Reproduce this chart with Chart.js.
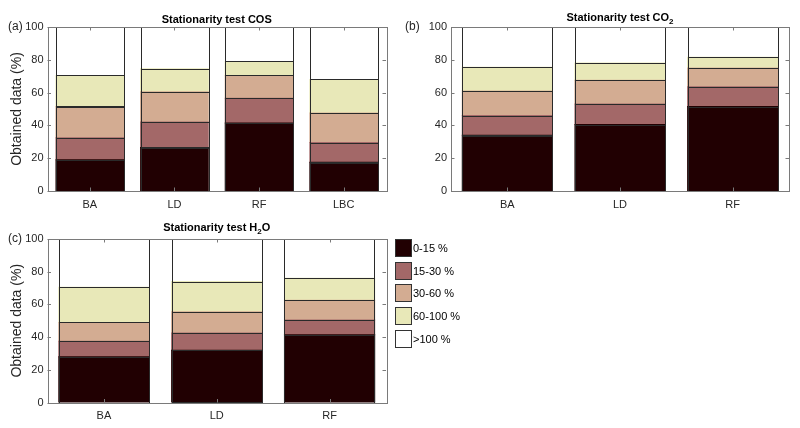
<!DOCTYPE html>
<html><head><meta charset="utf-8">
<script src="https://cdn.jsdelivr.net/npm/chart.js@4/dist/chart.umd.min.js"></script>
<style>
html,body{margin:0;padding:0;background:#fff;}
#wrap{position:relative;width:800px;height:428px;overflow:hidden;background:#fff;}
#wrap canvas{position:absolute;left:0;top:0;}
</style></head><body>
<div id="wrap">
<canvas id="ca" width="800" height="428"></canvas>
<canvas id="cb" width="800" height="428"></canvas>
<canvas id="cc" width="800" height="428"></canvas>
</div>
<script>
// ---- data ----
const seriesLabels = ['0-15 %', '15-30 %', '30-60 %', '60-100 %', '>100 %'];
const seriesColors = ['#210002', '#a36868', '#d3ac92', '#e8e8b8', '#ffffff'];
const yTickValues = [0, 20, 40, 60, 80, 100];
const yLabel = 'Obtained data (%)';

// (a) COS
const catsCOS = ['BA', 'LD', 'RF', 'LBC'];
const cos_0_15   = [19, 26.5, 41.5, 17.5];
const cos_15_30  = [13.5, 15.5, 15, 12];
const cos_30_60  = [19, 18.5, 14, 18];
const cos_60_100 = [19, 14, 8.5, 20.5];
const cos_gt100  = [29.5, 25.5, 21, 32];

// (b) CO2
const catsCO2 = ['BA', 'LD', 'RF'];
const co2_0_15   = [34, 40.5, 51.5];
const co2_15_30  = [12, 12.5, 12];
const co2_30_60  = [15, 14.5, 11.5];
const co2_60_100 = [14.5, 10.5, 6.5];
const co2_gt100  = [24.5, 22, 18.5];

// (c) H2O
const catsH2O = ['BA', 'LD', 'RF'];
const h2o_0_15   = [28, 32, 41.5];
const h2o_15_30  = [9.5, 10.5, 9];
const h2o_30_60  = [11.5, 13, 12];
const h2o_60_100 = [21.5, 18.5, 13.5];
const h2o_gt100  = [29.5, 26, 24];

const titleCOS = [{t: 'Stationarity test COS'}];
const titleCO2 = [{t: 'Stationarity test CO'}, {t: '2', sub: true}];
const titleH2O = [{t: 'Stationarity test H'}, {t: '2', sub: true}, {t: 'O'}];

// ---- drawing ----
const FONT = '"Liberation Sans", Arial, Helvetica, sans-serif';
const TXT = '#262626';
const AXC = '#7a7a7a';

const decor = {
  id: 'decor',
  afterDatasetsDraw(chart) {
    const ctx = chart.ctx;
    ctx.save();
    ctx.strokeStyle = '#2a2a2a';
    ctx.lineWidth = 1;
    chart.data.datasets.forEach((ds, i) => {
      chart.getDatasetMeta(i).data.forEach(el => {
        const p = el.getProps(['x', 'y', 'base', 'width'], true);
        const l = p.x - p.width / 2, t = Math.min(p.y, p.base), h = Math.abs(p.base - p.y);
        ctx.strokeRect(Math.round(l) + 0.5, Math.round(t) + 0.5, Math.round(p.width), Math.round(h));
      });
    });
    ctx.restore();
  },
  afterDraw(chart, args, o) {
    const ctx = chart.ctx;
    const {left, right, top, bottom} = chart.chartArea;
    const xs = chart.scales.x, ys = chart.scales.y;
    ctx.save();
    // box
    ctx.strokeStyle = AXC;
    ctx.lineWidth = 1;
    ctx.strokeRect(Math.round(left) + 0.5, Math.round(top) + 0.5, Math.round(right - left), Math.round(bottom - top));
    // inward ticks
    ctx.beginPath();
    ys.ticks.forEach(t => {
      const y = Math.round(ys.getPixelForValue(t.value)) + 0.5;
      ctx.moveTo(left, y); ctx.lineTo(left + 3.5, y);
      ctx.moveTo(right, y); ctx.lineTo(right - 3.5, y);
    });
    xs.ticks.forEach((t, i) => {
      const x = Math.round(xs.getPixelForValue(i)) + 0.5;
      ctx.moveTo(x, bottom); ctx.lineTo(x, bottom - 3.5);
      ctx.moveTo(x, top); ctx.lineTo(x, top + 3.5);
    });
    ctx.stroke();
    // panel label
    ctx.fillStyle = TXT;
    ctx.font = '12px ' + FONT;
    ctx.textBaseline = 'middle';
    ctx.textAlign = 'left';
    ctx.fillText(o.panel, o.panelX, top);
    // title with subscript
    const mainF = 'bold 11px ' + FONT, subF = 'bold 8px ' + FONT;
    let w = 0;
    o.title.forEach(p => { ctx.font = p.sub ? subF : mainF; w += ctx.measureText(p.t).width; });
    let x = (left + right) / 2 - w / 2;
    ctx.fillStyle = '#000';
    o.title.forEach(p => {
      ctx.font = p.sub ? subF : mainF;
      ctx.fillText(p.t, x, o.titleY + (p.sub ? 4 : 0));
      x += ctx.measureText(p.t).width;
    });
    // legend
    if (o.legend) {
      chart.data.datasets.forEach((ds, i) => {
        const by = Math.round(239 + i * 22.7) + 0.5;
        ctx.fillStyle = ds.backgroundColor;
        ctx.fillRect(395.5, by, 16, 17);
        ctx.strokeStyle = '#333';
        ctx.lineWidth = 1;
        ctx.strokeRect(395.5, by, 16, 17);
        ctx.fillStyle = '#000';
        ctx.font = '11px ' + FONT;
        ctx.textBaseline = 'middle';
        ctx.fillText(ds.label, 413, by + 9);
      });
    }
    ctx.restore();
  }
};

function makeChart(id, cats, series, box, deco, showYTitle) {
  const datasets = series.map((vals, i) => ({
    label: seriesLabels[i],
    data: vals,
    backgroundColor: seriesColors[i],
    borderWidth: 0,
    inflateAmount: 0.5,
    categoryPercentage: 0.8,
    barPercentage: 1.0
  }));
  const xH = 30;
  return new Chart(document.getElementById(id), {
    type: 'bar',
    data: {labels: cats, datasets},
    plugins: [decor],
    options: {
      responsive: false,
      animation: false,
      devicePixelRatio: 1,
      layout: {padding: {left: box.pl, right: 800 - box.right, top: box.top, bottom: 428 - box.bottom - xH}},
      plugins: {legend: {display: false}, title: {display: false}, tooltip: {enabled: false}, decor: deco},
      scales: {
        x: {
          stacked: true,
          grid: {display: false, drawTicks: false},
          border: {display: false},
          ticks: {color: TXT, font: {family: FONT, size: 11}, padding: 7, maxRotation: 0},
          afterFit: s => { s.height = xH; }
        },
        y: {
          stacked: true,
          min: 0, max: 100,
          grid: {display: false, drawTicks: false},
          border: {display: false},
          afterBuildTicks: s => { s.ticks = yTickValues.map(v => ({value: v})); },
          ticks: {color: TXT, font: {family: FONT, size: 11}, padding: 4},
          title: {display: showYTitle, text: yLabel, color: TXT, font: {family: FONT, size: 14}, padding: {top: 9, bottom: 0}},
          afterFit: s => { s.width = box.left - box.pl; }
        }
      }
    }
  });
}

makeChart('ca', catsCOS, [cos_0_15, cos_15_30, cos_30_60, cos_60_100, cos_gt100],
  {pl: 0, left: 47.5, right: 386, top: 27, bottom: 191},
  {panel: '(a)', panelX: 8, title: titleCOS, titleY: 19.5, legend: false}, true);
makeChart('cb', catsCO2, [co2_0_15, co2_15_30, co2_30_60, co2_60_100, co2_gt100],
  {pl: 400, left: 451, right: 789, top: 27, bottom: 191},
  {panel: '(b)', panelX: 405, title: titleCO2, titleY: 18, legend: false}, false);
makeChart('cc', catsH2O, [h2o_0_15, h2o_15_30, h2o_30_60, h2o_60_100, h2o_gt100],
  {pl: 0, left: 47.5, right: 386, top: 239, bottom: 402.5},
  {panel: '(c)', panelX: 8, title: titleH2O, titleY: 227.5, legend: true}, true);
</script>
</body></html>
